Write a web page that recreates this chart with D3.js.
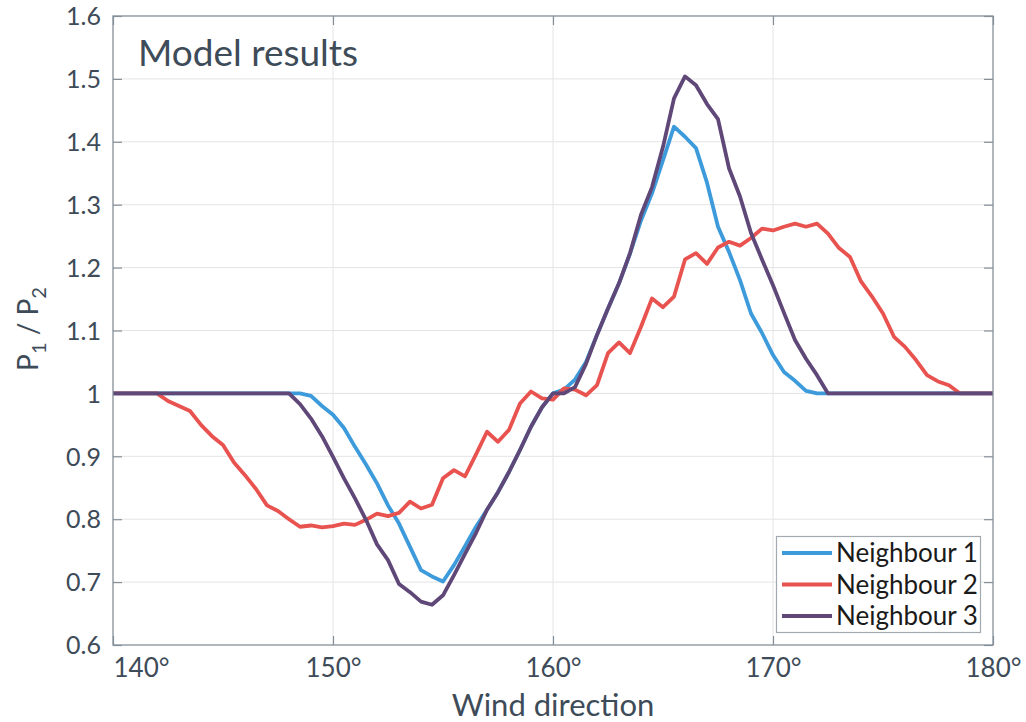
<!DOCTYPE html>
<html>
<head>
<meta charset="utf-8">
<script src="https://cdn.jsdelivr.net/npm/d3@7"></script>
<style>
  html, body { margin: 0; padding: 0; background: #fff; }
  svg { display: block; font-family: Lato, "Noto Sans", sans-serif; }
</style>
</head>
<body>
<svg id="chart" width="1026" height="722"></svg>
<script>
// Wind direction samples, 0.5° apart
const directions = d3.range(140, 180.001, 0.5);

const neighbour1 = [
  1.000, 1.000, 1.000, 1.000, 1.000, 1.000, 1.000, 1.000, 1.000, 1.000,
  1.000, 1.000, 1.000, 1.000, 1.000, 1.000, 1.000, 1.000, 0.996, 0.980,
  0.966, 0.945, 0.915, 0.887, 0.857, 0.822, 0.793, 0.756, 0.719, 0.709,
  0.701, 0.727, 0.757, 0.788, 0.815, 0.843, 0.875, 0.910, 0.947, 0.978,
  1.000, 1.006, 1.022, 1.050, 1.093, 1.135, 1.175, 1.222, 1.275, 1.318,
  1.371, 1.424, 1.408, 1.390, 1.335, 1.265, 1.225, 1.180, 1.127, 1.096,
  1.061, 1.034, 1.020, 1.004, 1.000, 1.000, 1.000, 1.000, 1.000, 1.000,
  1.000, 1.000, 1.000, 1.000, 1.000, 1.000, 1.000, 1.000, 1.000, 1.000,
  1.000
];

const neighbour2 = [
  1.000, 1.000, 1.000, 1.000, 1.000, 0.988, 0.980, 0.972, 0.950, 0.932,
  0.918, 0.890, 0.870, 0.848, 0.822, 0.813, 0.800, 0.788, 0.790, 0.787,
  0.789, 0.793, 0.791, 0.799, 0.809, 0.805, 0.810, 0.828, 0.817, 0.823,
  0.865, 0.878, 0.868, 0.903, 0.939, 0.923, 0.942, 0.984, 1.003, 0.992,
  0.990, 1.008, 1.006, 0.997, 1.013, 1.064, 1.081, 1.064, 1.106, 1.151,
  1.137, 1.154, 1.213, 1.223, 1.206, 1.232, 1.241, 1.235, 1.247, 1.262,
  1.259, 1.265, 1.270, 1.265, 1.270, 1.254, 1.231, 1.217, 1.178, 1.154,
  1.127, 1.090, 1.074, 1.053, 1.029, 1.019, 1.013, 1.000, 1.000, 1.000,
  1.000
];

const neighbour3 = [
  1.000, 1.000, 1.000, 1.000, 1.000, 1.000, 1.000, 1.000, 1.000, 1.000,
  1.000, 1.000, 1.000, 1.000, 1.000, 1.000, 1.000, 0.983, 0.960, 0.932,
  0.899, 0.865, 0.833, 0.799, 0.760, 0.735, 0.697, 0.684, 0.669, 0.664,
  0.679, 0.711, 0.745, 0.778, 0.815, 0.843, 0.875, 0.910, 0.947, 0.978,
  1.000, 1.000, 1.010, 1.047, 1.093, 1.135, 1.175, 1.223, 1.284, 1.328,
  1.392, 1.469, 1.504, 1.490, 1.460, 1.436, 1.358, 1.313, 1.255, 1.213,
  1.172, 1.128, 1.085, 1.055, 1.029, 1.000, 1.000, 1.000, 1.000, 1.000,
  1.000, 1.000, 1.000, 1.000, 1.000, 1.000, 1.000, 1.000, 1.000, 1.000,
  1.000
];

const seriesNames = ["Neighbour 1", "Neighbour 2", "Neighbour 3"];
const seriesColors = ["#3d9bdb", "#e8524f", "#5f4878"];
const xTicks = [140, 150, 160, 170, 180];
const yTicks = [0.6, 0.7, 0.8, 0.9, 1, 1.1, 1.2, 1.3, 1.4, 1.5, 1.6];

const svg = d3.select("#chart");
const plotL = 113, plotR = 993, plotT = 16, plotB = 645;
const textColor = "#3e4b58";
const frameColor = "#858f98";

const x = d3.scaleLinear().domain([140, 180]).range([plotL, plotR]);
const y = d3.scaleLinear().domain([0.6, 1.6]).range([plotB, plotT]);

// Grid
const grid = svg.append("g").attr("stroke", "#e4e4e4").attr("stroke-width", 1);
grid.selectAll("line.gx").data(xTicks.slice(1, -1)).join("line")
  .attr("x1", d => x(d)).attr("x2", d => x(d)).attr("y1", plotT).attr("y2", plotB);
grid.selectAll("line.gy").data(yTicks.slice(1, -1)).join("line")
  .attr("x1", plotL).attr("x2", plotR).attr("y1", d => y(d)).attr("y2", d => y(d));

// Axes with inward ticks on all four sides
const fmtDeg = d => d + "°";
const fmtY = d => d3.format("~g")(d);
const axB = svg.append("g").attr("transform", `translate(0,${plotB})`)
  .call(d3.axisBottom(x).tickValues(xTicks).tickSize(-9).tickPadding(14).tickFormat(fmtDeg));
const axT = svg.append("g").attr("transform", `translate(0,${plotT})`)
  .call(d3.axisTop(x).tickValues(xTicks).tickSize(-9).tickFormat(""));
const axL = svg.append("g").attr("transform", `translate(${plotL},0)`)
  .call(d3.axisLeft(y).tickValues(yTicks).tickSize(-9).tickPadding(12).tickFormat(fmtY));
const axR = svg.append("g").attr("transform", `translate(${plotR},0)`)
  .call(d3.axisRight(y).tickValues(yTicks).tickSize(-9).tickFormat(""));

[axB, axT, axL, axR].forEach(g => {
  g.select(".domain").remove();
  g.selectAll(".tick line").attr("stroke", frameColor).attr("stroke-width", 1.2);
  g.selectAll(".tick text").attr("fill", textColor).attr("font-family", "Lato, sans-serif");
});
axB.selectAll(".tick text").attr("font-size", 26);
axL.selectAll(".tick text").attr("font-size", 25).attr("dy", "0.35em");
// keep the first x label clear of the lowest y label
axB.selectAll(".tick text").filter(d => d === 140)
  .attr("text-anchor", "start").attr("x", 0);

// Series lines
const line = d3.line().x((d, i) => x(directions[i])).y(d => y(d));
const allSeries = [neighbour1, neighbour2, neighbour3];
svg.append("g").selectAll("path").data(allSeries).join("path")
  .attr("d", d => line(d))
  .attr("fill", "none")
  .attr("stroke", (d, i) => seriesColors[i])
  .attr("stroke-width", 3.8)
  .attr("stroke-linejoin", "round");

// Frame
svg.append("rect").attr("x", plotL).attr("y", plotT)
  .attr("width", plotR - plotL).attr("height", plotB - plotT)
  .attr("fill", "none").attr("stroke", frameColor).attr("stroke-width", 1.3);

// Title inside the axes
svg.append("text").attr("x", 138).attr("y", 66)
  .attr("font-size", 37).attr("fill", textColor).text("Model results");

// X label
svg.append("text").attr("x", (plotL + plotR) / 2).attr("y", 716)
  .attr("text-anchor", "middle").attr("font-size", 31).attr("fill", textColor)
  .text("Wind direction");

// Y label with subscripts
const yl = svg.append("text")
  .attr("transform", "translate(38,329) rotate(-90)")
  .attr("text-anchor", "middle").attr("font-size", 28).attr("fill", textColor);
yl.append("tspan").text("P");
yl.append("tspan").attr("font-size", 20).attr("dy", 8).text("1");
yl.append("tspan").attr("dy", -8).text(" / P");
yl.append("tspan").attr("font-size", 20).attr("dy", 8).text("2");

// Legend
const lg = svg.append("g");
lg.append("rect").attr("x", 776.5).attr("y", 536.5).attr("width", 204).attr("height", 96)
  .attr("fill", "#fff").attr("stroke", "#a3a9ae").attr("stroke-width", 1.2);
seriesNames.forEach((name, i) => {
  const ly = 553 + i * 31.5;
  lg.append("line").attr("x1", 782).attr("x2", 832).attr("y1", ly).attr("y2", ly)
    .attr("stroke", seriesColors[i]).attr("stroke-width", 3.8);
  lg.append("text").attr("x", 836).attr("y", ly).attr("dy", "0.36em")
    .attr("font-size", 26).attr("fill", "#1a1a1a").text(name);
});
</script>
</body>
</html>
